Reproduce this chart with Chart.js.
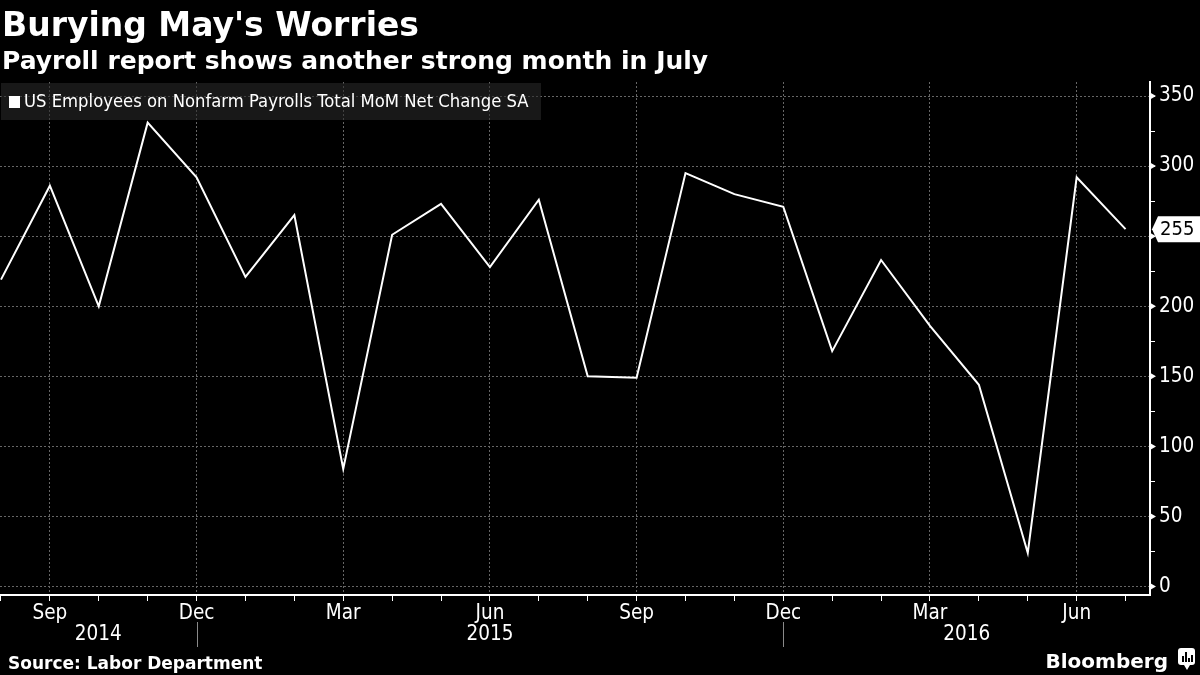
<!DOCTYPE html>
<html>
<head>
<meta charset="utf-8">
<script src="https://cdn.jsdelivr.net/npm/chart.js@4.4.1/dist/chart.umd.min.js"></script>
<style>
  html, body { margin: 0; padding: 0; background: #000; }
  canvas { display: block; }
</style>
</head>
<body>
<canvas id="chart" width="1200" height="675"></canvas>
<script>
// monthly categories, Aug 2014 .. Jul 2016
const months = ['Aug','Sep','Oct','Nov','Dec','Jan','Feb','Mar','Apr','May','Jun','Jul',
                'Aug','Sep','Oct','Nov','Dec','Jan','Feb','Mar','Apr','May','Jun','Jul'];
const years = [2014,2014,2014,2014,2014,2015,2015,2015,2015,2015,2015,2015,
               2015,2015,2015,2015,2015,2016,2016,2016,2016,2016,2016,2016];
// MoM net change, thousands
const payrolls = [219,286,200,331,292,221,265,84,251,273,228,276,
                  150,149,295,280,271,168,233,186,144,24,292,255];
const labelledMonths = ['Sep','Dec','Mar','Jun'];
const yMajor = [0,50,100,150,200,250,300,350];
const yMinor = [25,75,125,175,225,275,325];

const TITLE = "Burying May's Worries";
const SUBTITLE = 'Payroll report shows another strong month in July';
const SERIES = 'US Employees on Nonfarm Payrolls Total MoM Net Change SA';
const SOURCE = 'Source: Labor Department';

const BOLD = "'DejaVu Sans', sans-serif";
const COND = "'DejaVu Sans Condensed', 'Liberation Sans Narrow', sans-serif";
const GRID = '#666';

const isLabelled = i => labelledMonths.includes(months[i]);

const decor = {
  id: 'decor',
  beforeDraw(chart) {
    const c = chart.ctx;
    c.save();
    c.fillStyle = '#000';
    c.fillRect(0, 0, chart.width, chart.height);
    c.restore();
  },
  afterDraw(chart) {
    const c = chart.ctx;
    const xs = chart.scales.x, ys = chart.scales.y;
    const area = chart.chartArea;
    c.save();

    // titles
    c.fillStyle = '#fff';
    c.textBaseline = 'alphabetic';
    c.textAlign = 'left';
    c.font = 'bold 33px ' + BOLD;
    c.fillText(TITLE, 2, 36);
    c.font = 'bold 25px ' + BOLD;
    c.fillText(SUBTITLE, 2, 69);

    // legend box
    c.fillStyle = 'rgba(40,40,40,0.6)';
    c.fillRect(1, 83, 540, 37);
    c.fillStyle = '#fff';
    c.fillRect(9, 96, 11, 12);
    c.font = '18.3px ' + COND;
    c.textBaseline = 'middle';
    c.fillText(SERIES, 24, 102);

    // y-axis major tick markers (small triangles)
    c.fillStyle = '#fff';
    yMajor.forEach(v => {
      const y = ys.getPixelForValue(v);
      c.beginPath();
      c.moveTo(area.right, y - 3.5);
      c.lineTo(area.right + 6, y);
      c.lineTo(area.right, y + 3.5);
      c.closePath();
      c.fill();
    });

    // year labels and separators
    const bounds = [area.left];
    years.forEach((yr, i) => {
      if (i > 0 && months[i] === 'Dec') bounds.push(xs.getPixelForValue(i));
    });
    bounds.push(area.right);
    const yearNames = [...new Set(years)];
    c.font = '20.5px ' + COND;
    c.textAlign = 'center';
    c.textBaseline = 'middle';
    yearNames.forEach((yr, k) => {
      c.fillStyle = '#fff';
      c.fillText(String(yr), (bounds[k] + bounds[k + 1]) / 2, 635);
    });
    c.strokeStyle = '#8a8a8a';
    c.lineWidth = 1;
    bounds.slice(1, -1).forEach(x => {
      c.beginPath();
      c.moveTo(Math.round(x) + 0.5, 622);
      c.lineTo(Math.round(x) + 0.5, 647);
      c.stroke();
    });

    // last value tag
    const last = payrolls[payrolls.length - 1];
    const ly = ys.getPixelForValue(last);
    c.fillStyle = '#fff';
    c.beginPath();
    c.moveTo(area.right + 2, ly);
    c.lineTo(area.right + 8, ly - 13);
    c.lineTo(chart.width, ly - 13);
    c.lineTo(chart.width, ly + 13);
    c.lineTo(area.right + 8, ly + 13);
    c.closePath();
    c.fill();
    c.fillStyle = '#000';
    c.font = '20px ' + COND;
    c.textAlign = 'left';
    c.fillText(String(last), 1160, ly + 1);

    // footer
    c.fillStyle = '#fff';
    c.textAlign = 'left';
    c.textBaseline = 'alphabetic';
    c.font = 'bold 17px ' + BOLD;
    c.fillText(SOURCE, 8, 669);
    c.font = 'bold 20px ' + BOLD;
    c.textAlign = 'right';
    c.fillText('Bloomberg', 1168, 668);
    // small logo
    c.fillStyle = '#fff';
    c.beginPath();
    c.roundRect(1178, 648, 17, 17, 3);
    c.fill();
    c.beginPath();
    c.moveTo(1184, 665); c.lineTo(1187, 670); c.lineTo(1190, 665);
    c.fill();
    c.fillStyle = '#000';
    c.fillRect(1182, 656, 2, 6);
    c.fillRect(1185, 652, 2, 10);
    c.fillRect(1188, 658, 2, 4);
    c.fillRect(1191, 655, 2, 7);
    c.restore();
  }
};

new Chart(document.getElementById('chart'), {
  type: 'line',
  data: {
    datasets: [{
      label: SERIES,
      data: payrolls.map((v, i) => ({ x: i, y: v })),
      borderColor: '#fff',
      borderWidth: 2,
      pointRadius: 0,
      tension: 0,
      fill: false
    }]
  },
  options: {
    responsive: false,
    animation: false,
    layout: { padding: { top: 82, left: 0, right: 0, bottom: 0 } },
    plugins: {
      legend: { display: false },
      tooltip: { enabled: false },
      title: { display: false }
    },
    scales: {
      x: {
        type: 'linear',
        min: -0.02,
        max: 23.5,
        afterBuildTicks: s => { s.ticks = months.map((m, i) => ({ value: i })); },
        afterFit: s => { s.height = 80; },
        ticks: {
          autoSkip: false,
          maxRotation: 0,
          color: '#fff',
          padding: 0,
          font: { family: COND, size: 20.5 },
          callback: v => (Number.isInteger(v) && isLabelled(v)) ? months[v] : ''
        },
        grid: {
          color: ctx => (ctx.tick && isLabelled(ctx.tick.value)) ? GRID : 'rgba(0,0,0,0)',
          tickColor: '#fff',
          tickLength: 6,
          tickBorderDash: [],
          lineWidth: 1
        },
        border: { color: '#fff', width: 2, dash: [2, 2] }
      },
      y: {
        position: 'right',
        min: -6,
        max: 360,
        afterBuildTicks: s => {
          s.ticks = [...yMajor, ...yMinor].sort((a, b) => a - b).map(v => ({ value: v }));
        },
        afterFit: s => { s.width = 50; },
        ticks: {
          color: '#fff',
          padding: 4,
          font: { family: COND, size: 20.5 },
          callback: v => yMajor.includes(v) ? String(v) : ''
        },
        grid: {
          color: ctx => (ctx.tick && yMajor.includes(ctx.tick.value)) ? GRID : 'rgba(0,0,0,0)',
          tickColor: '#fff',
          tickLength: 5,
          tickBorderDash: [],
          lineWidth: 1
        },
        border: { color: '#fff', width: 2, dash: [2, 2] }
      }
    }
  },
  plugins: [decor]
});
</script>
</body>
</html>
